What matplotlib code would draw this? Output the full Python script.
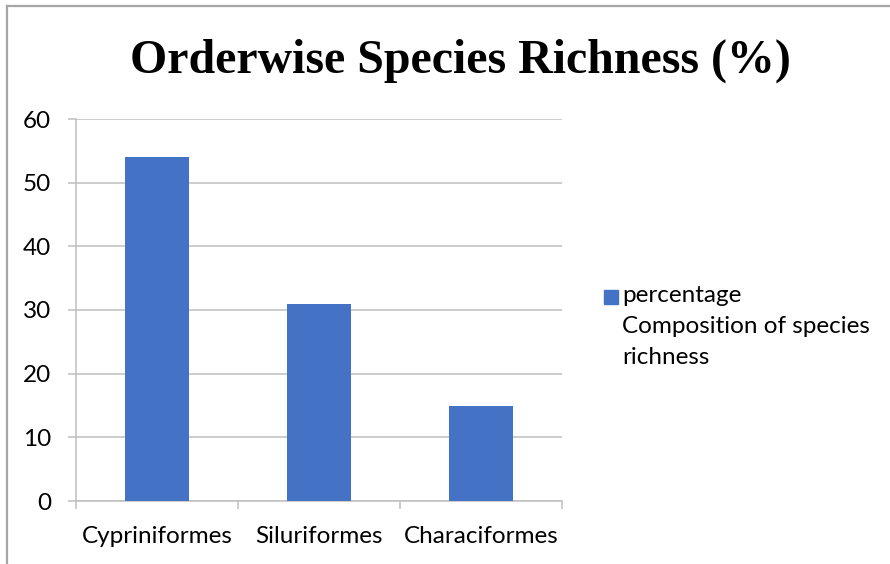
import matplotlib.pyplot as plt
from matplotlib.patches import Rectangle
from matplotlib.lines import Line2D

# ---------- Data ----------
orders = ["Cypriniformes", "Siluriformes", "Characiformes"]
richness_pct = [54, 31, 15]
legend_label = "percentage\nComposition of species\nrichness"
title = "Orderwise Species Richness (%)"

BAR = "#4472C4"
GRID = "#BFBFBF"
BORDER = "#A6A6A6"
FONT = "Lato"
FS = 17.5

fig = plt.figure(figsize=(8.9, 5.64), dpi=100)
ax = fig.add_axes([76 / 890, 1 - 501 / 564, (562 - 76) / 890, (501 - 119) / 564])

x = range(len(orders))
ax.bar(x, richness_pct, width=0.395, color=BAR, zorder=3)

ax.set_xlim(-0.5, len(orders) - 0.5)
ax.set_ylim(0, 60)
ax.set_yticks(range(0, 61, 10))
ax.yaxis.grid(True, color=GRID, linewidth=1.1)
ax.set_axisbelow(True)

# category boundaries as major ticks, labels on minor ticks
ax.set_xticks([i - 0.5 for i in range(len(orders) + 1)])
ax.set_xticklabels([])
ax.set_xticks(list(x), minor=True)
ax.set_xticklabels(orders, minor=True, fontsize=FS, family=FONT)
ax.tick_params(axis="x", which="major", length=6, color=GRID, width=1.1)
ax.tick_params(axis="x", which="minor", length=0, pad=18)
ax.tick_params(axis="y", length=6, color=GRID, width=1.1, pad=12, labelsize=FS)
for lab in ax.get_yticklabels():
    lab.set_family(FONT)

for s in ["top", "right"]:
    ax.spines[s].set_visible(False)
for s in ["left", "bottom"]:
    ax.spines[s].set_color(GRID)
    ax.spines[s].set_linewidth(1.1)

fig.text(460 / 890, 1 - 61 / 564, title, ha="center", va="center",
         family="Liberation Serif", weight="bold", fontsize=34.5)

# legend drawn by hand so the square sits beside the first line
fig.add_artist(Rectangle((604 / 890, 1 - 304 / 564), 14 / 890, 14 / 564,
                         transform=fig.transFigure, color=BAR))
fig.text(622 / 890, 1 - 285 / 564, legend_label, ha="left", va="top",
         family=FONT, fontsize=FS, linespacing=1.58)

# outer chart border (only top and left visible in the crop)
fig.add_artist(Line2D([7 / 890, 7 / 890], [0, 1 - 6 / 564], transform=fig.transFigure,
                      color=BORDER, linewidth=1.6))
fig.add_artist(Line2D([7 / 890, 1], [1 - 6 / 564, 1 - 6 / 564], transform=fig.transFigure,
                      color=BORDER, linewidth=1.6))

fig.savefig("out.png", dpi=100)
